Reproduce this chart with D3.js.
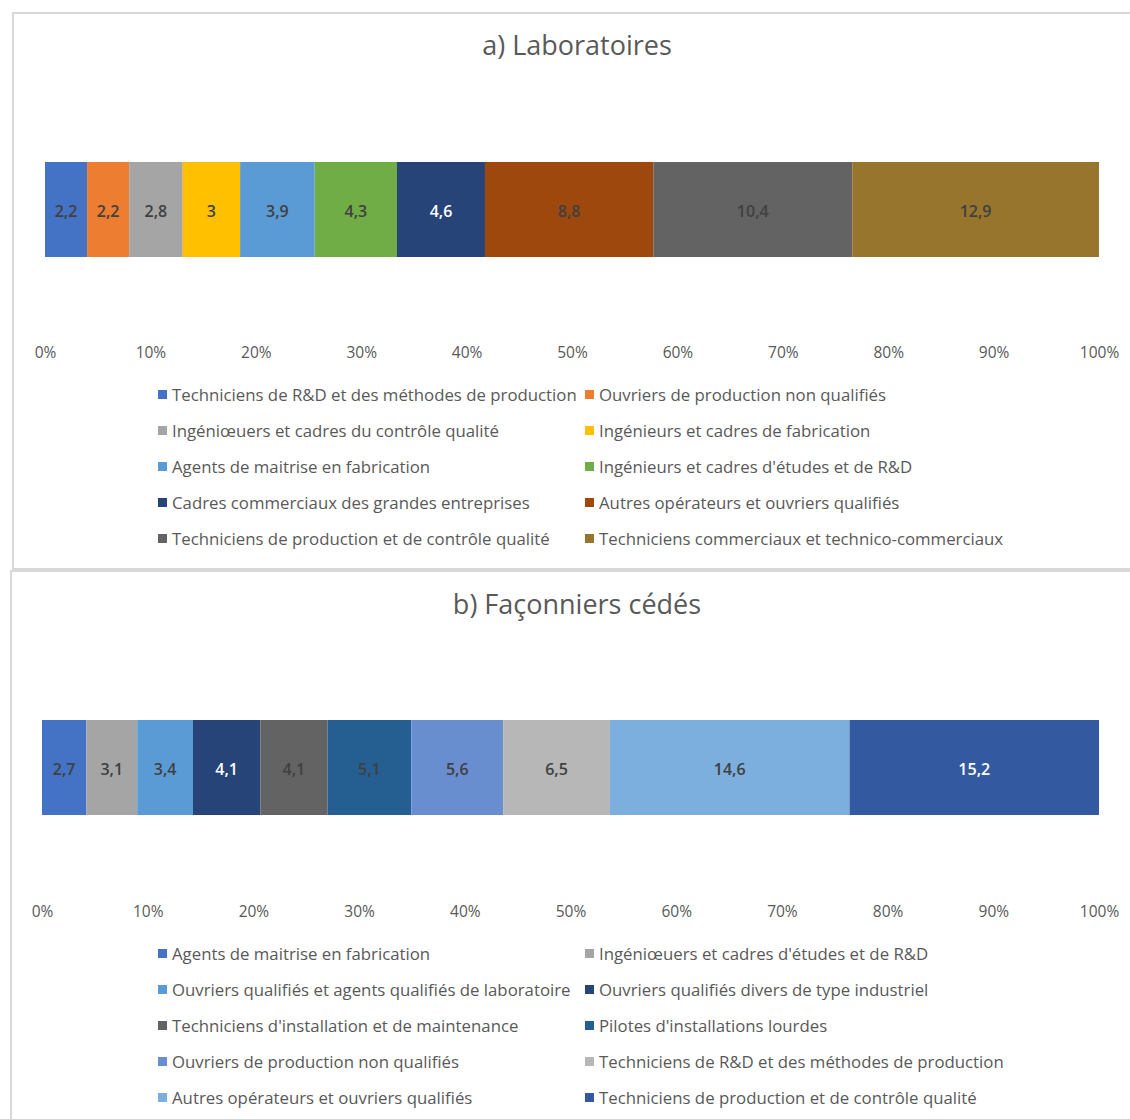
<!DOCTYPE html>
<html><head><meta charset="utf-8">
<script src="https://cdn.jsdelivr.net/npm/d3@7"></script>
<style>
body{margin:0;background:#fff;}
svg{display:block;font-family:"Open Sans","Liberation Sans",sans-serif;}
</style></head>
<body><svg id="c" width="1130" height="1119"></svg>
<script>
// Panel a) Laboratoires
const catsA = ["Techniciens de R&D et des méthodes de production","Ouvriers de production non qualifiés","Ingéniœuers et cadres du contrôle qualité","Ingénieurs et cadres de fabrication","Agents de maitrise en fabrication","Ingénieurs et cadres d'études et de R&D","Cadres commerciaux des grandes entreprises","Autres opérateurs et ouvriers qualifiés","Techniciens de production et de contrôle qualité","Techniciens commerciaux et technico-commerciaux"];
const valsA = [2.2,2.2,2.8,3,3.9,4.3,4.6,8.8,10.4,12.9];
const colsA = ["#4472C4","#ED7D31","#A5A5A5","#FFC000","#5B9BD5","#70AD47","#264478","#9E480E","#636363","#98752C"];
const lblA = ["#404040","#404040","#404040","#404040","#404040","#404040","#ffffff","#404040","#404040","#404040"];
// Panel b) Façonniers cédés
const catsB = ["Agents de maitrise en fabrication","Ingéniœuers et cadres d'études et de R&D","Ouvriers qualifiés et agents qualifiés de laboratoire","Ouvriers qualifiés divers de type industriel","Techniciens d'installation et de maintenance","Pilotes d'installations lourdes","Ouvriers de production non qualifiés","Techniciens de R&D et des méthodes de production","Autres opérateurs et ouvriers qualifiés","Techniciens de production et de contrôle qualité"];
const valsB = [2.7,3.1,3.4,4.1,4.1,5.1,5.6,6.5,14.6,15.2];
const colsB = ["#4472C4","#A5A5A5","#5B9BD5","#264478","#636363","#255E91","#698ED0","#B7B7B7","#7CAFDD","#335AA1"];
const lblB = ["#404040","#404040","#404040","#ffffff","#404040","#404040","#404040","#404040","#404040","#ffffff"];
const ticks = [0,0.1,0.2,0.3,0.4,0.5,0.6,0.7,0.8,0.9,1];

const svg = d3.select("#c");
const fmt = v => String(v).replace(".", ",");

function panel(o){
  const g = svg.append("g");
  g.append("rect").attr("x",o.px).attr("y",o.py).attr("width",1200).attr("height",o.ph)
    .attr("fill","#fff").attr("stroke","#d9d9d9").attr("stroke-width",2);
  g.append("text").attr("x",577).attr("y",o.titleY).attr("text-anchor","middle")
    .attr("font-size",27).attr("fill","#595959").attr("font-family","'Liberation Sans Narrow','Open Sans',sans-serif")
    .text(o.title);
  const total = d3.sum(o.vals);
  const x = d3.scaleLinear().domain([0,1]).range([o.x0,1099]);
  let acc = 0;
  const segs = o.vals.map((v,i)=>{const s={i,v,a:acc/total,b:(acc+v)/total};acc+=v;return s;});
  g.selectAll("rect.seg").data(segs).join("rect").attr("class","seg")
    .attr("x",d=>x(d.a)).attr("y",o.barY).attr("width",d=>x(d.b)-x(d.a)).attr("height",95)
    .attr("fill",d=>o.cols[d.i]);
  g.selectAll("text.val").data(segs).join("text").attr("class","val")
    .attr("x",d=>(x(d.a)+x(d.b))/2).attr("y",o.barY+49).attr("dy","0.35em")
    .attr("text-anchor","middle").attr("font-size",16).attr("font-weight",600).attr("fill",d=>o.lbl[d.i])
    .text(d=>fmt(d.v));
  const ax = d3.axisBottom(x).tickValues(ticks).tickFormat(d3.format(".0%")).tickSize(0);
  const ag = g.append("g").attr("transform",`translate(0,${o.tickY})`).call(ax);
  ag.select(".domain").remove();
  ag.selectAll("text").attr("font-size",15.5).attr("fill","#595959").attr("font-family","'Open Sans',sans-serif").attr("dy","0.35em").attr("y",0);
  // legend
  o.cats.forEach((c,i)=>{
    const col = i%2, row = Math.floor(i/2);
    const lx = col===0 ? 158 : 585;
    const ly = o.legY + row*36;
    g.append("rect").attr("x",lx).attr("y",ly-5).attr("width",9).attr("height",9).attr("fill",o.cols[i]);
    g.append("text").attr("x",lx+14).attr("y",ly).attr("dy","0.35em").attr("font-size",16.8)
      .attr("fill","#595959").text(c);
  });
}
panel({px:13,py:13,ph:556,title:"a) Laboratoires",titleY:55,x0:45,barY:162,tickY:353,legY:395,
  cats:catsA,vals:valsA,cols:colsA,lbl:lblA});
panel({px:11,py:571,ph:600,title:"b) Façonniers cédés",titleY:614,x0:42,barY:720,tickY:912,legY:954,
  cats:catsB,vals:valsB,cols:colsB,lbl:lblB});
</script></body></html>
